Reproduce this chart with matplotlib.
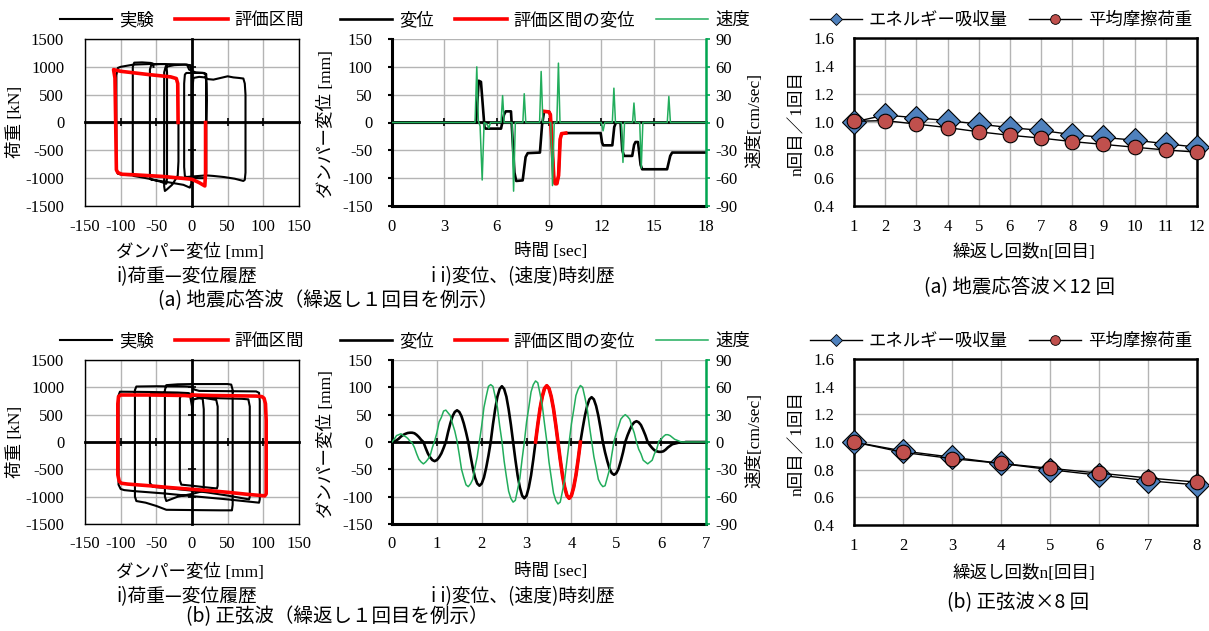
import numpy as np
import matplotlib
matplotlib.use('Agg')
import matplotlib.pyplot as plt
from matplotlib.lines import Line2D

plt.rcParams['axes.unicode_minus'] = False
plt.rcParams['font.family'] = ['Liberation Serif', 'Noto Sans CJK JP']

SERIF = ['Liberation Serif', 'Noto Sans CJK JP']
JP = ['Noto Sans CJK JP', 'DejaVu Sans']
W, H = 1209, 631

RED = '#ff0000'
GREEN = '#22ad5c'
GRID = '#b4b4b4'

# ---------- (a) 地震応答波 : 荷重-変位履歴 ----------
hys_a_x = [0, 0.5, 2, 10, 18, 22, 30, 40, 50, 58, 66, 72, 74, 75, 75, 74, 72,
           60, 45, 30, 20, 10, 0, -8, -10, -11, -11, -10, -8, 5, 15, 19,
           20, 20, 19, 17, 0, -20, -40, -60, -80, -98, -104, -106, -106, -104, -100,
           -82, -60, -40, -20, -7, -4, 5, 17, 20, 20.5, 20]
hys_a_y = [0, 600, 800, 820, 810, 780, 770, 800, 830, 810, 800, 790, 700, 500, -900, -1030, -1050,
           -1010, -980, -960, -950, -960, -970, -980, -960, -800, 700, 860, 890, 890, 890, 870,
           700, -900, -980, -1000, -1000, -990, -975, -960, -950, -940, -920, -850, 850, 980, 1000,
           1040, 1050, 1050, 1045, 1040, 950, 900, 890, 870, 400, 0]
hys_a2_x = [-19, -19, -20, -22, -28, -35, -38, -39, -39, -37, -25, -10, -2, -1, -1, -3,
            -12, -30, -45, -55, -58, -59, -59, -57, -45, -38, -36, -35, -35, -36,
            -45, -60, -75, -82, -83, -83, -81, -70, -58, -55, -54]
hys_a2_y = [0, -700, -950, -1000, -1120, -1200, -1230, -1150, 900, 1000, 1030, 1040, 1030, 900, -1100, -1170,
            -1120, -1080, -1050, -1030, -1020, -950, 950, 1040, 1050, 1050, 1040, 900, -1000, -1100,
            -1060, -1010, -975, -960, -900, 1000, 1075, 1080, 1070, 1060, 1000]
red_a_x = [19, 19, 18, 10, 0, -40, -80, -98, -104, -106, -107, -108, -110, -100, -60, -30, -22, -20, -19.5]
red_a_y = [0, -900, -1140, -1080, -1020, -970, -940, -930, -900, -850, 0, 800, 950, 920, 860, 820, 790, 700, 0]

# ---------- (a) 変位・速度 時刻歴 ----------
disp_a_t = [0, 4.82, 4.97, 5.1, 5.3, 5.36, 6.25, 6.42, 6.52, 6.82, 7.02, 7.12, 7.49, 7.66, 7.78, 8.48, 8.6, 8.72,
            9.0, 9.08, 9.28, 9.35, 9.45, 9.55, 9.64, 9.72, 9.96,
            11.96, 12.04, 12.11, 12.63, 12.74, 12.84, 13.1, 13.2, 13.3, 13.77, 13.88, 13.96, 14.1, 14.25, 14.34,
            15.77, 15.95, 16.06, 18.0]
disp_a = [0, 0, 75, 73, -8, -11, -11, 14, 20, 20, -90, -105, -104, -62, -55, -54, -5, 20,
          19, 14, -100, -110, -110, -95, -30, -20, -19,
          -19, -36, -41, -41, -8, 0, 0, -50, -60, -60, -40, -35, -35, -76, -84, -84,
          -60, -54, -54]
red_a_span = (8.72, 9.96)
vel_a_t = [0, 4.76, 4.86, 4.95, 5.05, 5.17, 5.28, 5.45, 5.55, 5.65, 6.25, 6.34, 6.43, 6.88, 6.97, 7.07,
           7.5, 7.58, 7.67, 8.46, 8.55, 8.65, 9.1, 9.2, 9.3, 9.45, 9.54, 9.63, 12.0, 12.1, 12.2,
           12.63, 12.72, 12.81, 13.15, 13.24, 13.33, 13.79, 13.87, 13.95, 14.2, 14.29, 14.38,
           15.78, 15.87, 15.96, 18.0]
vel_a = [0, 0, 60, 2, -4, -62, 0, -2, -6, 0, 0, 29, 0, 0, -74, 0,
         0, 31, 0, 0, 55, 0, 0, -68, 0, 0, 64, 0, 0, -9, 0,
         0, 37, 0, 0, -43, 0, 0, 21, 0, 0, -49, 0,
         0, 28, 0, 0]

# ---------- (b) 正弦波 : 荷重-変位履歴 ----------
hys_b_x = [0, 0.5, 2, 10, 15, 16.5, 16.5, 15, 0, -20, -30, -36, -38, -38, -36,
           -20, 0, 30, 50, 55, 57, 57, 56, 40, 0, -36, -50, -65, -78, -80, -80, -78,
           -50, -10, 0, 3, 10, 50, 90, 94, 95, 95, 94,
           50, 0, -40, -80, -95, -100, -103, -103, -101, -60, -20, -5, 0]
hys_b_y = [0, 600, 780, 800, 790, 600, -850, -900, -950, -1000, -1050, -1080, -1000, 950, 1040,
           1055, 1060, 1060, 1060, 1050, 950, -1150, -1250, -1250, -1245, -1240, -1170, -1110, -1080, -1000, 950, 1015,
           1020, 1015, 1010, 960, 935, 930, 925, 900, 750, -1050, -1110,
           -1050, -990, -940, -900, -880, -860, -780, 850, 920, 915, 905, 895, 870]
hys_b2_x = [0, 10, 40, 70, 79, 81, 81, 80, 50, 20, 0, -30, -55, -59, -59, -57,
            -30, 0, 20, 34, 36, 36, 35, 20, 0, -15, -17, -17, -15, -8, -3, 0, 0]
hys_b2_y = [860, 820, 800, 790, 780, 650, -1000, -1050, -980, -920, -890, -850, -820, -750, 850, 890,
            880, 860, 800, 770, 650, -800, -850, -830, -800, -780, -700, 800, 870, 880, 870, 650, 500]
red_b_x = [0, 30, 60, 90, 98, 101, 103, 104, 104, 102, 80, 50, 20, 0, -30, -60, -90, -99,
           -102, -104, -104, -103, -100, -60, -30, -10, -2, 0]
red_b_y = [860, 850, 845, 840, 830, 800, 700, 400, -950, -985, -960, -920, -885, -865, -835, -800, -770, -755,
           -720, -600, 700, 830, 860, 860, 855, 850, 840, 860]

# ---------- (b) 変位・速度 時刻歴 (0.05 sec 刻み) ----------
dt_b = 0.05
disp_b = [0, 1, 3, 6, 10, 13, 15, 16.5, 17, 17,
          16, 13, 9, 4, 0, -11, -21, -28, -33, -35,
          -33, -28, -21, -11, 0, 18, 34, 47, 55, 58,
          55, 47, 34, 18, 0, -25, -47, -65, -76, -80,
          -76, -65, -47, -25, 0, 32, 60, 83, 97, 102,
          97, 83, 60, 32, 0, -32, -61, -83, -98, -103,
          -98, -83, -61, -32, 0, 32, 61, 83, 98, 103,
          98, 83, 61, 32, 0, -32, -61, -83, -98, -103,
          -98, -83, -61, -32, 0, 25, 48, 66, 78, 82,
          78, 66, 48, 25, 0, -19, -35, -49, -57, -60,
          -57, -49, -35, -19, 0, 12, 22, 31, 36, 38,
          36, 31, 22, 12, 0, -6, -11, -15, -17, -18,
          -18, -17, -14, -10, -7, -4, -3, -2, -1, -1,
          -1, 0, 0, 0, 0, 0, 0, 0, 0, 0,
          0]
vel_b = [0, 3, 7, 8, 9, 7, 6, 4, 1, -1,
         -6, -13, -19, -22, -24, -22, -19, -15, -6, 1,
         10, 22, 27, 34, 35, 32, 29, 20, 12, 1,
         -14, -30, -39, -47, -49, -46, -41, -28, -16, 1,
         18, 38, 50, 61, 63, 61, 50, 38, 18, 1,
         -21, -38, -54, -62, -66, -64, -52, -40, -19, 0,
         22, 38, 55, 63, 67, 65, 53, 40, 20, 1,
         -22, -39, -56, -64, -68, -66, -54, -41, -20, 0,
         20, 35, 51, 58, 62, 60, 49, 37, 18, 1,
         -16, -28, -41, -46, -49, -48, -39, -30, -14, 1,
         10, 17, 25, 28, 30, 28, 25, 17, 10, 0,
         -8, -13, -20, -22, -24, -22, -20, -13, -8, 1,
         3, 6, 8, 8, 7, 5, 3, 2, 1, 0,
         0, 0, 0, 0, 0, 0, 0, 0, 0, 0,
         0]
red_b_span = (3.2, 4.2)

# ---------- n回目／1回目 ----------
cycles_a = list(range(1, 13))
energy_a = [1.00, 1.05, 1.03, 1.01, 0.985, 0.96, 0.94, 0.91, 0.89, 0.87, 0.845, 0.82]
friction_a = [1.005, 1.01, 0.985, 0.96, 0.93, 0.905, 0.885, 0.86, 0.84, 0.82, 0.80, 0.785]
cycles_b = list(range(1, 9))
energy_b = [1.00, 0.935, 0.89, 0.845, 0.80, 0.76, 0.72, 0.69]
friction_b = [1.00, 0.925, 0.88, 0.845, 0.81, 0.775, 0.74, 0.71]


fig = plt.figure(figsize=(W / 100, H / 100), dpi=100)


def add_ax(l, t, r, b):
    return fig.add_axes([l / W, 1 - b / H, (r - l) / W, (b - t) / H])


def ftext(x, y, s, fam=JP, size=12.6, rot=0):
    fig.text(x / W, 1 - y / H, s, ha='center', va='center', rotation=rot,
             family=fam, fontsize=size)


def zero_lines(ax, xt=None, yt=None):
    # Excel風に 0 の位置に軸線と目盛
    if xt is not None:
        sx = ax.secondary_xaxis(0.5)
        sx.set_xticks(xt)
        sx.tick_params(axis='x', direction='inout', length=6, width=1.2,
                       labeltop=False, labelbottom=False)
        sx.spines['top'].set_linewidth(2.0)
        sx.set_zorder(1)
    if yt is not None:
        sy = ax.secondary_yaxis(0.5)
        sy.set_yticks(yt)
        sy.tick_params(axis='y', direction='inout', length=6, width=1.2,
                       labelright=False, labelleft=False)
        sy.spines['right'].set_linewidth(2.0)
        sy.set_zorder(1)


def hyst_panel(ax, paths, red_x, red_y):
    for px, py in paths:
        ax.plot(px, py, color='k', lw=1.5, zorder=3)
    ax.plot(red_x, red_y, color=RED, lw=2.6, zorder=4)
    ax.set_xlim(-150, 150)
    ax.set_ylim(-1500, 1500)
    ax.set_xticks(range(-150, 151, 50))
    ax.set_yticks(range(-1500, 1501, 500))
    ax.grid(True, color=GRID, lw=1)
    ax.set_axisbelow(True)
    ax.tick_params(axis='x', length=0, labelsize=12, pad=9)
    ax.tick_params(axis='y', length=0, labelsize=12, pad=15)
    for s in ax.spines.values():
        s.set_linewidth(1.0)
    zero_lines(ax, xt=[-100, -50, 50, 100], yt=[-1000, -500, 500, 1000])


def time_panel(ax, t, d, span, vt, v, tmax, tstep):
    t = np.asarray(t, dtype=float)
    d = np.asarray(d, dtype=float)
    m = (t >= span[0] - 1e-9) & (t <= span[1] + 1e-9)
    ax.plot(t, d, color='k', lw=1.9, zorder=3)
    ax.plot(t[m], d[m], color=RED, lw=2.6, zorder=4)
    ax.set_xlim(0, tmax)
    ax.set_ylim(-150, 150)
    ax.set_xticks(np.arange(0, tmax + 0.01, tstep))
    ax.set_yticks(range(-150, 151, 50))
    ax.grid(True, color=GRID, lw=1)
    ax.set_axisbelow(True)
    ax.tick_params(axis='x', length=0, labelsize=12, pad=9)
    ax.tick_params(axis='y', direction='out', length=3, width=1.5, labelsize=12, pad=11)
    ax.spines['top'].set_visible(False)
    ax.spines['right'].set_visible(False)
    ax.spines['left'].set_linewidth(2.2)
    ax.spines['bottom'].set_linewidth(2.2)
    zero_lines(ax, xt=list(np.arange(tstep, tmax, tstep)))
    ax2 = ax.twinx()
    ax2.plot(vt, v, color=GREEN, lw=1.1, zorder=2)
    ax2.set_ylim(-90, 90)
    ax2.set_yticks(range(-90, 91, 30))
    for k in ['left', 'top', 'bottom']:
        ax2.spines[k].set_visible(False)
    ax2.spines['right'].set_color('#00a651')
    ax2.spines['right'].set_linewidth(1.8)
    ax2.tick_params(axis='y', direction='out', length=3, width=1.2, color='#00a651',
                    labelsize=12, pad=3.5)
    return ax2


def ratio_panel(ax, n, en, fr):
    ax.plot(n, en, color='k', lw=1.0, marker='D', ms=12, mfc='#4f81bd', mec='k',
            mew=0.8, clip_on=False, zorder=3)
    ax.plot(n, fr, color='k', lw=1.0, marker='o', ms=10.5, mfc='#c0504d', mec='k',
            mew=0.8, clip_on=False, zorder=4)
    ax.set_xlim(1, n[-1])
    ax.set_ylim(0.4, 1.6)
    ax.set_xticks(n)
    ax.set_yticks(np.arange(0.4, 1.61, 0.2))
    ax.set_yticklabels(['%.1f' % y for y in np.arange(0.4, 1.61, 0.2)])
    ax.grid(True, color=GRID, lw=1)
    ax.set_axisbelow(True)
    ax.tick_params(axis='x', length=0, labelsize=12, pad=9)
    ax.tick_params(axis='y', length=0, labelsize=12, pad=14)
    for s in ax.spines.values():
        s.set_linewidth(1.8)


def legend_at(handles, labels, cx, cy, cs=1.2):
    fig.legend(handles, labels, loc='center', bbox_to_anchor=(cx / W, 1 - cy / H),
               ncol=len(handles), frameon=False, prop={'family': JP, 'size': 12.5},
               handlelength=3.0, handletextpad=0.4, columnspacing=cs,
               borderaxespad=0, borderpad=0)


h_exp = [Line2D([], [], color='k', lw=1.5), Line2D([], [], color=RED, lw=2.6)]
h_time = [Line2D([], [], color='k', lw=1.9), Line2D([], [], color=RED, lw=2.6),
          Line2D([], [], color=GREEN, lw=1.1)]
h_ratio = [Line2D([], [], color='k', lw=1.0, marker='D', ms=6, mfc='#4f81bd', mec='k', mew=0.6),
           Line2D([], [], color='k', lw=1.0, marker='o', ms=7, mfc='#c0504d', mec='k', mew=0.6)]

t_b = np.round(np.arange(len(disp_b)) * dt_b, 2)

for row, dy in enumerate([0, 321]):
    ax1 = add_ax(85, 39 + dy, 299, 206 + dy if row == 0 else 524)
    ax2 = add_ax(392, 39 + dy, 706, 206 + dy if row == 0 else 524)
    ax3 = add_ax(854, 38 + dy, 1197, 206 + dy if row == 0 else 525)
    if row == 0:
        hyst_panel(ax1, [(hys_a_x, hys_a_y), (hys_a2_x, hys_a2_y)], red_a_x, red_a_y)
        time_panel(ax2, disp_a_t, disp_a, red_a_span, vel_a_t, vel_a, 18, 3)
        ratio_panel(ax3, cycles_a, energy_a, friction_a)
    else:
        hyst_panel(ax1, [(hys_b_x, hys_b_y), (hys_b2_x, hys_b2_y)], red_b_x, red_b_y)
        time_panel(ax2, t_b, disp_b, red_b_span, t_b, vel_b, 7, 1)
        ratio_panel(ax3, cycles_b, energy_b, friction_b)

# 凡例
for ly in [20, 341]:
    legend_at(h_exp, ['実験', '評価区間'], 182, ly, cs=1.25)
    legend_at(h_time, ['変位', '評価区間の変位', '速度'], 545, ly, cs=1.2)
    legend_at(h_ratio, ['エネルギー吸収量', '平均摩擦荷重'], 1001, ly, cs=1.2)

# 軸ラベル・キャプション
for oy, cap_l, cap_r in [(0, '(a) 地震応答波（繰返し１回目を例示）', '(a) 地震応答波×12 回'),
                         (320, '(b) 正弦波（繰返し１回目を例示）', '(b) 正弦波×8 回')]:
    ftext(16, 122 + oy, '荷重 [kN]', SERIF, rot=90)
    ftext(190, 252 + oy, 'ダンパー変位 [mm]', SERIF)
    ftext(187, 277 + oy, 'i)荷重—変位履歴', JP, 13.5)
    ftext(326, 124 + oy, 'ダンパー変位 [mm]', SERIF, rot=90)
    ftext(551, 252 + oy, '時間 [sec]', SERIF)
    ftext(523, 277 + oy, 'i i)変位、(速度)時刻歴', JP, 13.5)
    ftext(755, 121 + oy, '速度[cm/sec]', SERIF, rot=90)
    ftext(798, 123 + oy, 'n回目／1回目', SERIF, rot=90)
    ftext(1024, 253 + oy, '繰返し回数n[回目]', SERIF)
    if oy == 0:
        ftext(328, 301, cap_l, JP, 14)
        ftext(1020, 288, cap_r, JP, 14)
    else:
        ftext(337, 617, cap_l, JP, 14)
        ftext(1018, 603, cap_r, JP, 14)

fig.savefig('out.png', dpi=100)
